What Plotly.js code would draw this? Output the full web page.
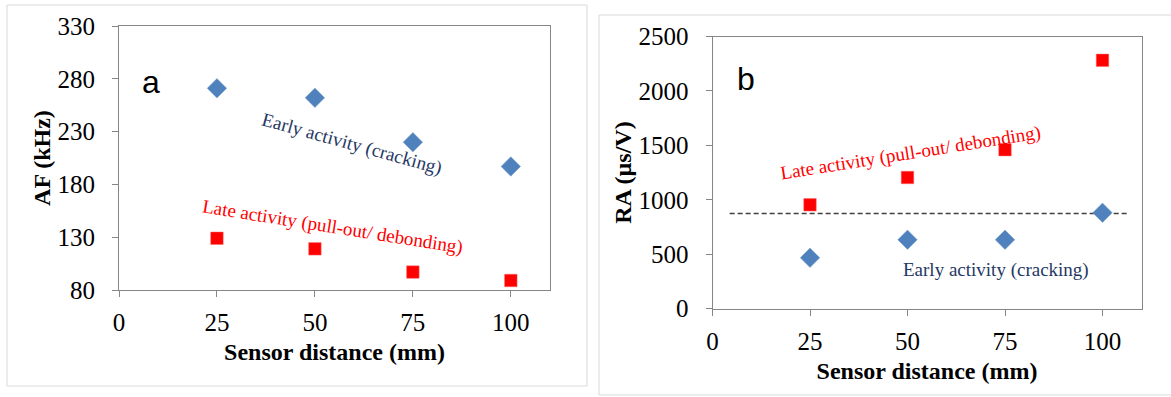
<!DOCTYPE html>
<html>
<head>
<meta charset="utf-8">
<script src="https://cdn.plot.ly/plotly-3.0.1.min.js"></script>
<style>html,body{margin:0;padding:0;background:#fff;}#chart{width:1171px;height:397px;}</style>
</head>
<body>
<div id="chart"></div>
<script>
// ---- data ----
const sensorDistance = [25, 50, 75, 100];
const afEarly = [271, 262, 220, 197];
const afLate = [129, 119, 97, 89];
const raEarly = [468, 633, 633, 881];
const raLate = [954, 1205, 1461, 2281];
const raThresholdX = [4.4, 106.7];
const raThresholdY = [875, 875];
const xTicks = [0, 25, 50, 75, 100];
const afTicks = [80, 130, 180, 230, 280, 330];
const raTicks = [0, 500, 1000, 1500, 2000, 2500];

// ---- layout helpers ----
const W = 1171, H = 397;
const px = x => x / W;
const py = y => 1 - y / H;

const blue = '#4F81BD', red = '#FF0000', navy = '#1F3864';
const serif = 'Liberation Serif';
const tickFont = {family: serif, size: 25, color: '#000'};
const titleFont = {family: serif, size: 24, color: '#000', weight: 'bold'};
const annFont = (c) => ({family: serif, size: 19, color: c});

const diamond = {symbol: 'diamond', size: 15, color: blue, line: {width: 0.5, color: '#7fa3d3'}};
const square = {symbol: 'square', size: 12.5, color: red, line: {width: 0.5, color: '#ff6a6a'}};

const traces = [
  {x: sensorDistance, y: afEarly, mode: 'markers', marker: diamond, xaxis: 'x', yaxis: 'y', name: 'Early activity (cracking)'},
  {x: sensorDistance, y: afLate, mode: 'markers', marker: square, xaxis: 'x', yaxis: 'y', name: 'Late activity (pull-out/ debonding)'},
  {x: raThresholdX, y: raThresholdY, mode: 'lines', line: {color: '#404040', width: 1.5, dash: '5px,3px'}, xaxis: 'x2', yaxis: 'y2', name: 'threshold'},
  {x: sensorDistance, y: raEarly, mode: 'markers', marker: diamond, xaxis: 'x2', yaxis: 'y2', name: 'Early activity (cracking)'},
  {x: sensorDistance, y: raLate, mode: 'markers', marker: square, xaxis: 'x2', yaxis: 'y2', name: 'Late activity (pull-out/ debonding)'}
];

const axCommon = {
  showgrid: false, zeroline: false, ticks: 'outside', ticklen: 6, tickwidth: 1,
  tickcolor: '#868686', linecolor: '#868686', linewidth: 1, mirror: true,
  tickfont: tickFont
};
const xCommon = Object.assign({}, axCommon, {ticklabelstandoff: 4});
const yCommon = Object.assign({}, axCommon, {ticklabelstandoff: 12});

const layout = {
  width: W, height: H,
  margin: {l: 0, r: 0, t: 0, b: 0},
  paper_bgcolor: '#fff', plot_bgcolor: '#fff',
  showlegend: false,
  xaxis: Object.assign({}, xCommon, {
    domain: [px(119), px(550)], range: [0, 110], tickvals: xTicks, anchor: 'y',
    title: {text: 'Sensor distance (mm)', font: titleFont, standoff: 8}
  }),
  yaxis: Object.assign({}, yCommon, {
    domain: [py(290), py(26)], range: [80, 330], tickvals: afTicks, anchor: 'x',
    title: {text: 'AF (kHz)', font: titleFont, standoff: 0}
  }),
  xaxis2: Object.assign({}, xCommon, {
    domain: [px(712.5), px(1141.5)], range: [0, 110], tickvals: xTicks, anchor: 'y2',
    title: {text: 'Sensor distance (mm)', font: titleFont, standoff: 8}
  }),
  yaxis2: Object.assign({}, yCommon, {
    domain: [py(308.7), py(36.5)], range: [0, 2500], tickvals: raTicks, anchor: 'x2',
    title: {text: 'RA (µs/V)', font: titleFont, standoff: 0}
  }),
  shapes: [
    {type: 'rect', xref: 'paper', yref: 'paper', x0: px(7), x1: px(587), y0: py(386), y1: py(5), line: {color: '#d9d9d9', width: 1}, layer: 'below'},
    {type: 'rect', xref: 'paper', yref: 'paper', x0: px(599), x1: px(1180), y0: py(395), y1: py(15), line: {color: '#d9d9d9', width: 1}, layer: 'below'}
  ],
  annotations: [
    {xref: 'paper', yref: 'paper', x: px(140), y: py(62), text: 'a', showarrow: false, font: {family: 'Liberation Sans', size: 32, color: '#000'}},
    {xref: 'paper', yref: 'paper', x: px(745.5), y: py(59), text: 'b', showarrow: false, font: {family: 'Liberation Sans', size: 32, color: '#000'}},
    {xref: 'x', yref: 'y', x: 59.5, y: 218, text: 'Early activity (cracking)', textangle: 15.5, showarrow: false, font: annFont(navy)},
    {xref: 'x', yref: 'y', x: 54.6, y: 140, text: 'Late activity (pull-out/ debonding)', textangle: 9, showarrow: false, font: annFont(red)},
    {xref: 'x2', yref: 'y2', x: 50.8, y: 1427, text: 'Late activity (pull-out/ debonding)', textangle: -9, showarrow: false, font: annFont(red)},
    {xref: 'x2', yref: 'y2', x: 72.7, y: 355, text: 'Early activity (cracking)', showarrow: false, font: annFont(navy)}
  ]
};

Plotly.newPlot('chart', traces, layout, {staticPlot: true, displayModeBar: false});
</script>
</body>
</html>
